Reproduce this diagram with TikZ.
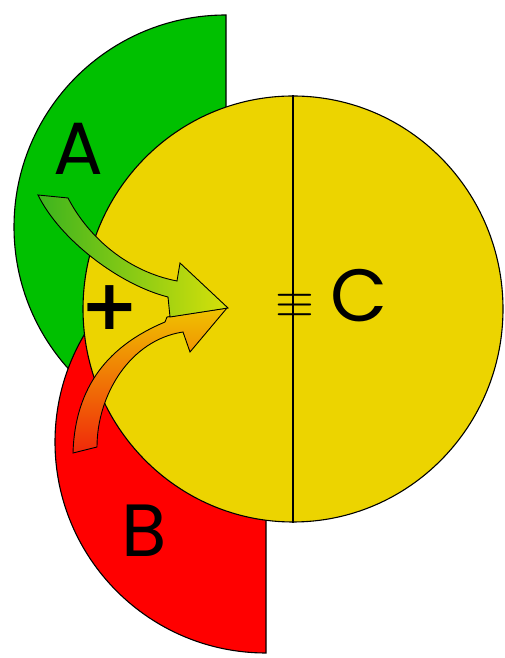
\documentclass[tikz,border=0pt]{standalone}
\usepackage{fontspec}
\setmainfont{Poppins}
\newfontfamily\symbolfont{DejaVu Sans}
\usepackage{tikz}
\usetikzlibrary{shapes.geometric}
\definecolor{SetGreen}{RGB}{0,192,0}
\definecolor{SetRed}{RGB}{255,0,0}
\definecolor{SetYellow}{RGB}{236,212,0}
\definecolor{FlowGreen}{RGB}{60,180,30}
\definecolor{FlowLime}{RGB}{215,225,10}
\definecolor{FlowRed}{RGB}{240,40,10}
\definecolor{FlowAmber}{RGB}{240,195,0}

\begin{document}
\begin{tikzpicture}[x=1pt, y=1pt,
          region/.style={draw=black, line width=1.1pt},
          flow/.style={draw=black, line width=0.9pt, line join=miter},
          letter/.style={font=\fontsize{74}{80}\selectfont, anchor=base, inner sep=0pt}
        ]
        \useasboundingbox (0,0) rectangle (504,658);

        % Set A
        \draw[region, fill=SetGreen]
              (226,643) arc[start angle=90, end angle=270, radius=212] -- cycle;
        % Set B
        \draw[region, fill=SetRed]
              (266,427) arc[start angle=90, end angle=270, radius=211] -- cycle;
        % Set C
        \node[region, ellipse, fill=SetYellow, inner sep=0pt,
              minimum width=420pt, minimum height=426pt] (setc) at (293,349) {};
        \draw[region] (setc.north) -- (setc.south);

        % Flow from B
        \shadedraw[flow, bottom color=FlowRed, top color=FlowAmber]
              (73,205) -- (97,211) .. controls (97,263) and (130,318) .. (183,326)
              -- (190,306) -- (227,350) -- (167,341) -- (165,336)
              .. controls (110,313) and (75,273) .. (73,205) -- cycle;
        % Flow from A
        \shadedraw[flow, left color=FlowGreen, right color=FlowLime]
              (38,463) -- (68,460) .. controls (90,418) and (130,386) .. (177,377)
              -- (180,395) -- (228,350) -- (170,341) -- (168,361)
              .. controls (120,373) and (60,418) .. (38,463) -- cycle;

        % Labels
        \node[letter] (labela) at (78,483) {A};
        \node[letter] (labelb) at (144,101) {B};
        \node[letter] (labelc) at (359,336) {C};
        \node[font=\fontsize{70}{70}\selectfont\symbolfont\bfseries, inner sep=0pt]
              (plus) at (110,350) {+};
        \node[inner sep=0pt, scale=5] (equal) at (295,352) {$\equiv$};
      \end{tikzpicture}
\end{document}
